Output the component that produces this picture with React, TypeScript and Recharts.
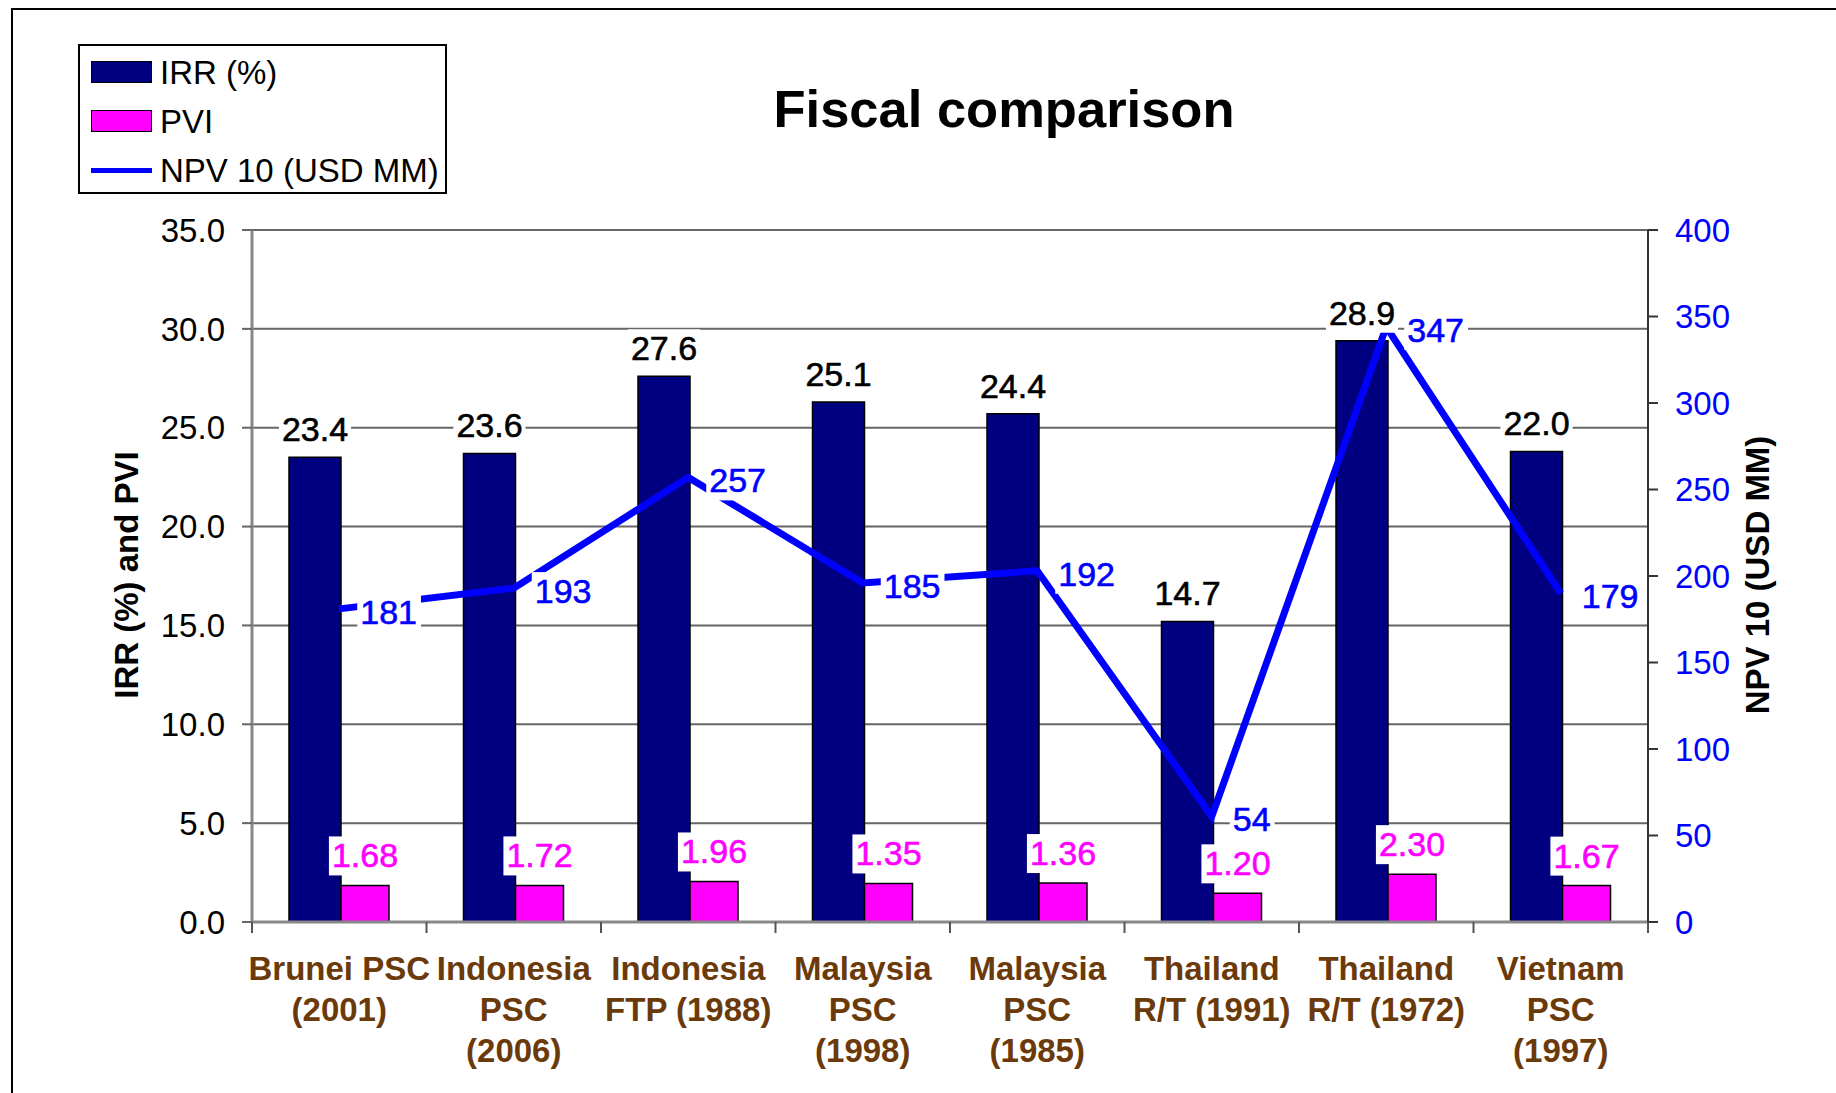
import {
  ComposedChart,
  Bar,
  Line,
  XAxis,
  YAxis,
  CartesianGrid,
  LabelList,
  Legend,
} from 'recharts';

const categories = [
  'Brunei PSC\n(2001)',
  'Indonesia\nPSC\n(2006)',
  'Indonesia\nFTP (1988)',
  'Malaysia\nPSC\n(1998)',
  'Malaysia\nPSC\n(1985)',
  'Thailand\nR/T (1991)',
  'Thailand\nR/T (1972)',
  'Vietnam\nPSC\n(1997)',
];

// marks as drawn in the picture, and the label texts printed beside them
const irr = [23.5, 23.7, 27.6, 26.3, 25.7, 15.2, 29.4, 23.8];
const irrLabels = ['23.4', '23.6', '27.6', '25.1', '24.4', '14.7', '28.9', '22.0'];
const pvi = [1.85, 1.85, 2.05, 1.95, 1.97, 1.45, 2.42, 1.84];
const pviLabels = ['1.68', '1.72', '1.96', '1.35', '1.36', '1.20', '2.30', '1.67'];
const npv = [181, 193, 257, 196, 203, 61, 344, 190];
const npvLabels = ['181', '193', '257', '185', '192', '54', '347', '179'];

const leftTicks = [0, 5, 10, 15, 20, 25, 30, 35];
const rightTicks = [0, 50, 100, 150, 200, 250, 300, 350, 400];

const legendItems = [
  { key: 'irr', name: 'IRR (%)' },
  { key: 'pvi', name: 'PVI' },
  { key: 'npv', name: 'NPV 10 (USD MM)' },
];

const data = categories.map((name, i) => ({
  name,
  irr: irr[i],
  pvi: pvi[i],
  npv: npv[i],
}));

const FONT = '"Liberation Sans", Arial, sans-serif';
const NAVY = '#000080';
const MAGENTA = '#ff00ff';
const BLUE = '#0000ff';
const BROWN = '#6b3a0a';
const LBL = 34;
const BAND = (1648 - 252) / categories.length;

function textWidth(s: string, size: number) {
  let w = 0;
  for (const ch of s) w += ch === '.' ? 0.278 : 0.556;
  return w * size;
}

function box(props: any) {
  const vb = props.viewBox && props.viewBox.x != null ? props.viewBox : props;
  return { x: Number(vb.x), y: Number(vb.y), width: Number(vb.width) || 0 };
}

function barLabel(labels: string[], color: string, lift: number) {
  return (props: any) => {
    const { x, y, width } = box(props);
    const text = labels[props.index];
    const cx = x + width / 2;
    const base = y - lift;
    const w = textWidth(text, LBL);
    return (
      <g>
        <rect x={cx - w / 2 - 3} y={base - 31} width={w + 6} height={39} fill="#fff" />
        <text
          x={cx}
          y={base}
          textAnchor="middle"
          fontSize={LBL}
          fill={color}
          stroke={color}
          strokeWidth={0.6}
          fontFamily={FONT}
        >
          {text}
        </text>
      </g>
    );
  };
}

function npvLabel(props: any) {
  const { x, y } = box(props);
  const text = npvLabels[props.index];
  const w = textWidth(text, LBL);
  return (
    <g>
      <rect x={x + 18} y={y - 16} width={w + 7} height={39} fill="#fff" />
      <text
        x={x + 21}
        y={y + 15}
        fontSize={LBL}
        fill={BLUE}
        stroke={BLUE}
        strokeWidth={0.6}
        fontFamily={FONT}
      >
        {text}
      </text>
    </g>
  );
}

function CategoryTick(props: any) {
  const { x, y, payload, index } = props;
  const lines = String(payload.value).split('\n');
  const half = BAND / 2;
  return (
    <g>
      <line x1={x - half} x2={x - half} y1={y} y2={y + 11} stroke="#555" strokeWidth={2} />
      {index === categories.length - 1 && (
        <line x1={x + half} x2={x + half} y1={y} y2={y + 11} stroke="#555" strokeWidth={2} />
      )}
      <text x={x} y={y + 58} textAnchor="middle" fontSize={33} fontWeight="bold" fill={BROWN} fontFamily={FONT}>
        {lines.map((l, i) => (
          <tspan key={i} x={x} dy={i === 0 ? 0 : 41}>
            {l}
          </tspan>
        ))}
      </text>
    </g>
  );
}

function LegendBox() {
  return (
    <div
      style={{
        width: 369,
        height: 150,
        border: '2px solid #000',
        boxSizing: 'border-box',
        background: '#fff',
        fontFamily: FONT,
        fontSize: 33,
        color: '#000',
        position: 'relative',
      }}
    >
      {legendItems.map((item, i) => (
        <div
          key={item.key}
          style={{ position: 'absolute', left: 11, top: 7 + i * 49, height: 38, display: 'flex', alignItems: 'center' }}
        >
          {item.key === 'npv' ? (
            <div style={{ width: 61, height: 5, background: BLUE, marginRight: 8 }} />
          ) : (
            <div
              style={{
                width: 61,
                height: 22,
                background: item.key === 'irr' ? NAVY : MAGENTA,
                border: '1.5px solid #000',
                boxSizing: 'border-box',
                marginRight: 8,
              }}
            />
          )}
          <span style={{ lineHeight: 1, whiteSpace: 'nowrap' }}>{item.name}</span>
        </div>
      ))}
    </div>
  );
}

export default function App() {
  return (
    <div
      style={{
        position: 'absolute',
        left: 0,
        top: 0,
        width: 1836,
        height: 1093,
        overflow: 'hidden',
        background: '#fff',
        fontFamily: FONT,
      }}
    >
      <div
        style={{
          position: 'absolute',
          left: 11,
          top: 8,
          width: 1900,
          height: 1200,
          border: '2px solid #000',
          boxSizing: 'border-box',
        }}
      />
      <div style={{ position: 'absolute', left: 0, top: 0 }}>
        <ComposedChart
          width={1836}
          height={1093}
          data={data}
          margin={{ top: 230, right: 0, bottom: 0, left: 0 }}
          barGap={0}
        >
          <CartesianGrid vertical={false} yAxisId="left" stroke="#666" strokeWidth={2} />
          <XAxis
            dataKey="name"
            height={171}
            interval={0}
            tickLine={false}
            tickSize={0}
            tickMargin={0}
            axisLine={{ stroke: '#888', strokeWidth: 3 }}
            tick={<CategoryTick />}
          />
          <YAxis
            yAxisId="left"
            width={252}
            domain={[0, 35]}
            ticks={leftTicks}
            tickFormatter={(v: number) => v.toFixed(1)}
            tick={{ fontSize: 33, fill: '#000', fontFamily: FONT }}
            tickSize={10}
            tickMargin={17}
            tickLine={{ stroke: '#666', strokeWidth: 2 }}
            axisLine={{ stroke: '#888', strokeWidth: 3 }}
          />
          <YAxis
            yAxisId="right"
            orientation="right"
            width={188}
            domain={[0, 400]}
            ticks={rightTicks}
            tick={{ fontSize: 33, fill: BLUE, fontFamily: FONT }}
            tickSize={10}
            tickMargin={17}
            tickLine={{ stroke: '#333', strokeWidth: 2 }}
            axisLine={{ stroke: '#333', strokeWidth: 2 }}
          />
          <Legend
            layout="vertical"
            align="center"
            verticalAlign="middle"
            content={<LegendBox />}
            wrapperStyle={{ left: 78, top: 44, width: 369, height: 150 }}
          />
          <Bar
            yAxisId="left"
            dataKey="irr"
            name="IRR (%)"
            fill={NAVY}
            stroke="#000"
            strokeWidth={1.5}
            barSize={52}
            isAnimationActive={false}
          >
            <LabelList dataKey="irr" content={barLabel(irrLabels, '#000', 16)} />
          </Bar>
          <Bar
            yAxisId="left"
            dataKey="pvi"
            name="PVI"
            fill={MAGENTA}
            stroke="#000"
            strokeWidth={1.5}
            barSize={48}
            isAnimationActive={false}
          >
            <LabelList dataKey="pvi" content={barLabel(pviLabels, MAGENTA, 18)} />
          </Bar>
          <Line
            yAxisId="right"
            type="linear"
            dataKey="npv"
            name="NPV 10 (USD MM)"
            stroke={BLUE}
            strokeWidth={7}
            dot={false}
            activeDot={false}
            isAnimationActive={false}
          >
            <LabelList dataKey="npv" content={npvLabel} />
          </Line>
        </ComposedChart>
      </div>
      <div
        style={{
          position: 'absolute',
          left: 1004,
          top: 109,
          transform: 'translate(-50%, -50%)',
          fontSize: 52.5,
          fontWeight: 'bold',
          lineHeight: 1,
          whiteSpace: 'nowrap',
          color: '#000',
        }}
      >
        Fiscal comparison
      </div>
      <div
        style={{
          position: 'absolute',
          left: 126,
          top: 575,
          transform: 'translate(-50%, -50%) rotate(-90deg)',
          fontSize: 33,
          fontWeight: 'bold',
          lineHeight: 1,
          whiteSpace: 'nowrap',
          color: '#000',
        }}
      >
        IRR (%) and PVI
      </div>
      <div
        style={{
          position: 'absolute',
          left: 1757,
          top: 575,
          transform: 'translate(-50%, -50%) rotate(-90deg)',
          fontSize: 33,
          fontWeight: 'bold',
          lineHeight: 1,
          whiteSpace: 'nowrap',
          color: '#000',
        }}
      >
        NPV 10 (USD MM)
      </div>
    </div>
  );
}
